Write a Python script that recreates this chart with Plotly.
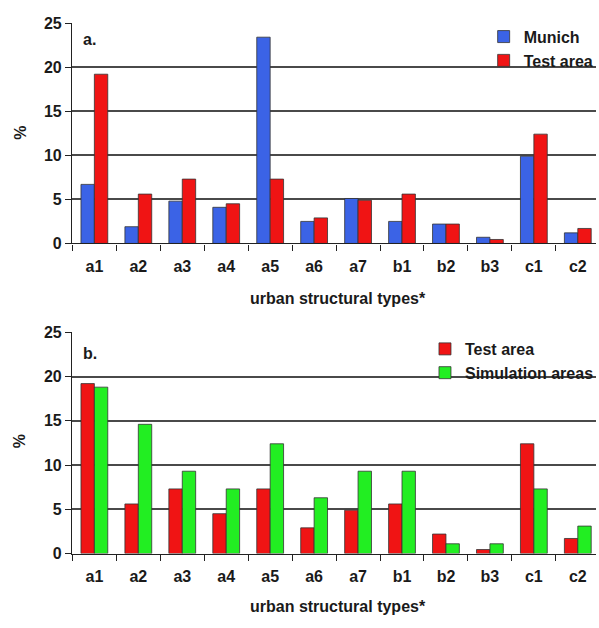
import plotly.graph_objects as go

categories = ["a1", "a2", "a3", "a4", "a5", "a6", "a7", "b1", "b2", "b3", "c1", "c2"]
munich = [6.7, 1.9, 4.8, 4.1, 23.4, 2.5, 5.1, 2.5, 2.2, 0.7, 9.9, 1.2]
test_area = [19.2, 5.6, 7.3, 4.5, 7.3, 2.9, 4.9, 5.6, 2.2, 0.45, 12.4, 1.7]
simulation = [18.8, 14.6, 9.3, 7.3, 12.4, 6.3, 9.3, 9.3, 1.1, 1.1, 7.3, 3.1]
y_ticks = [0, 5, 10, 15, 20, 25]

W, H = 599, 628
L = 72
FONT = "Liberation Sans, Arial, sans-serif"
TXT = "#1a1a1a"
BLUE = "#3b63e6"
RED = "#f01414"
GREEN = "#22ee22"
EDGE = "#333333"
FS = 16

def py(p):
    return 1 - p / H

def px(p):
    return (p - L) / (W - L)

fig = go.Figure()
fig.add_trace(go.Bar(x=categories, y=munich, name="Munich", marker=dict(color=BLUE, line=dict(color=EDGE, width=0.8)),
                     xaxis="x", yaxis="y", legend="legend"))
fig.add_trace(go.Bar(x=categories, y=test_area, name="Test area", marker=dict(color=RED, line=dict(color=EDGE, width=0.8)),
                     xaxis="x", yaxis="y", legend="legend"))
fig.add_trace(go.Bar(x=categories, y=test_area, name="Test area", marker=dict(color=RED, line=dict(color=EDGE, width=0.8)),
                     xaxis="x2", yaxis="y2", legend="legend2"))
fig.add_trace(go.Bar(x=categories, y=simulation, name="Simulation areas", marker=dict(color=GREEN, line=dict(color=EDGE, width=0.8)),
                     xaxis="x2", yaxis="y2", legend="legend2"))

xcommon = dict(type="category", range=[-0.509, 11.414], showline=True, linecolor="#222", linewidth=1.2,
               ticks="outside", tickson="boundaries", ticklen=6, tickcolor="#222", showgrid=False,
               tickfont=dict(family=FONT, size=FS, color=TXT, weight="bold"), ticklabelstandoff=8,
               domain=[0, 1])
ycommon = dict(range=[0, 25], tickvals=y_ticks, showline=True, linecolor="#222", linewidth=1.2,
               ticks="outside", ticklen=6, tickcolor="#222", showgrid=True, gridcolor="#4a4a4a", gridwidth=1.6,
               tickfont=dict(family=FONT, size=FS, color=TXT, weight="bold"), zeroline=False)

fig.update_layout(
    width=W, height=H, margin=dict(l=L, r=0, t=0, b=0),
    paper_bgcolor="white", plot_bgcolor="white",
    barmode="group", bargap=0.39, bargroupgap=0,
    xaxis=dict(**xcommon, anchor="y"),
    yaxis=dict(**ycommon, domain=[py(242), py(15.5)], anchor="x"),
    xaxis2=dict(**xcommon, anchor="y2"),
    yaxis2=dict(**ycommon, domain=[py(560.7), py(333.3)], anchor="x2"),
    legend=dict(x=px(486), y=py(12), xanchor="left", yanchor="top", bgcolor="rgba(0,0,0,0)",
                font=dict(family=FONT, size=FS, color=TXT, weight="bold"), itemwidth=30, tracegroupgap=0),
    legend2=dict(x=px(427), y=py(333), xanchor="left", yanchor="top", bgcolor="rgba(0,0,0,0)",
                 font=dict(family=FONT, size=FS, color=TXT, weight="bold"), itemwidth=30, tracegroupgap=0),
    showlegend=True,
)

ann_font = dict(family=FONT, size=FS, color=TXT, weight="bold")
annotations = [
    dict(text="a.", x=px(81), y=py(32), xanchor="left", yanchor="middle"),
    dict(text="b.", x=px(81), y=py(355), xanchor="left", yanchor="middle"),
    dict(text="urban structural types*", x=px(340), y=py(299), xanchor="center", yanchor="middle"),
    dict(text="urban structural types*", x=px(340), y=py(615), xanchor="center", yanchor="middle"),
    dict(text="%", x=px(20), y=py(128), xanchor="center", yanchor="middle", textangle=-90),
    dict(text="%", x=px(20), y=py(445), xanchor="center", yanchor="middle", textangle=-90),
]
for a in annotations:
    fig.add_annotation(xref="paper", yref="paper", showarrow=False, font=ann_font, **a)

post = (
    "var s=document.createElement('style');"
    "s.textContent='html,body{margin:0;padding:0;overflow:hidden;width:599px;height:628px;}"
    "body>div{margin:0;padding:0;line-height:0;font-size:0;}';"
    "document.head.appendChild(s);"
)
fig.write_html("out.html", config={"displayModeBar": False}, post_script=post)
